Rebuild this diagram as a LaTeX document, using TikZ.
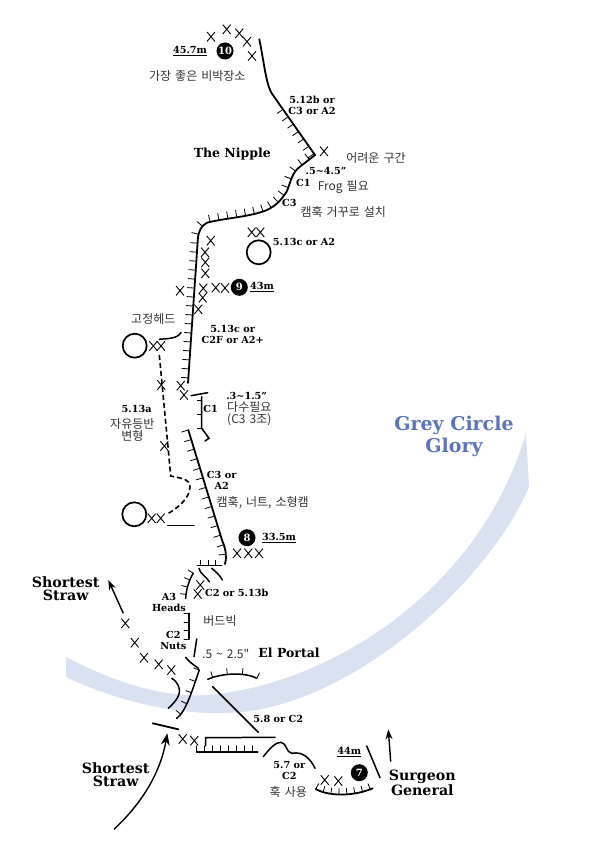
\documentclass[tikz,border=0pt]{standalone}
\usepackage{fontspec}
\setmainfont{DejaVu Serif}
\newfontfamily\krfont[WordSpace=1.5]{Noto Sans CJK KR}
\usetikzlibrary{arrows.meta,decorations.markings,shapes.misc}
\definecolor{glory}{HTML}{DAE2F1}
\definecolor{gloryink}{HTML}{5B73C0}
\tikzset{
  wall/.style={line width=1.8pt,line cap=round},
  thinwall/.style={line width=1.5pt,line cap=round},
  ticks/.style 2 args={postaction={decorate,decoration={markings,
    mark=between positions 0 and 1 step #1 with {\draw[line width=.8pt] (0,0) -- (0,#2);}}}},
  xmark/.style={cross out,draw,line width=.9pt,inner sep=0pt,minimum width=7pt,minimum height=8.5pt},
  ring/.style={line width=1.7pt},
  ball/.style={circle,fill=black,text=white,inner sep=0pt,minimum size=17pt,font=\fontsize{10}{10}\selectfont\bfseries},
  grade/.style={align=center,font=\fontsize{9.7}{11}\selectfont\bfseries},
  note/.style={align=center,font=\krfont\fontsize{12}{11.8}\selectfont,text=black!80},
  place/.style={align=center,font=\fontsize{12.5}{12.5}\selectfont\bfseries},
  bigplace/.style={align=center,font=\fontsize{14.2}{12.8}\selectfont\bfseries},
  route/.style={line width=1.4pt,-{Stealth[length=10pt,width=7pt]}}
}
\begin{document}
\begin{tikzpicture}[x=1pt,y=-1pt]
    \useasboundingbox (0,0) rectangle (595,842);
    % band
    \fill[glory] (66,657) .. controls (110,680) and (160,698) .. (207,695)
      .. controls (330,685) and (480,590) .. (526,433) -- (529,487)
      .. controls (490,580) and (350,710) .. (227,713)
      .. controls (170,715) and (110,698) .. (66,677) -- cycle;
    \node[font=\fontsize{19}{22}\selectfont\bfseries,text=gloryink,align=center] (glorylabel) at (454,436) {Grey Circle\\Glory};

    % upper pitch
    \draw[wall] (259.3,39.3) .. controls (264,62) and (266,84) .. (271.7,93.3) -- (283,109.4);
    \draw[wall,ticks={9pt}{7}] (283,109.4) -- (315,155) -- (300,166.7) .. controls (292,172) and (290,184) .. (286.7,191.7)
      .. controls (281,200) and (277,205) .. (267,210) .. controls (250,217) and (225,218) .. (207,222.7)
      .. controls (201,226) and (199,231) .. (198,237) -- (188,383);
    \draw[thinwall] (159.3,339.3) .. controls (167,338.5) and (177,339) .. (181,332.7);
    \draw[line width=1.6pt,dash pattern=on 5pt off 3pt] (159.3,355) -- (168.3,450) -- (170.7,476)
      .. controls (178,478) and (190,478) .. (190,486.7) .. controls (190,498) and (178,508) .. (166.7,514.3);
    \draw[thinwall] (167.7,525.7) -- (194,525.7);

    % middle pitch
    \draw[thinwall] (191,395.7) -- (207.7,392.7);
    \draw[thinwall] (201.7,396.7) -- (201.7,428.3) -- (209,438.3) -- (205,441);
    \foreach \ty in {400,414,428.3}
      \draw[line width=.8pt] (196.5,\ty) -- (201.7,\ty);
    \draw[wall,ticks={10pt}{7}] (188.3,430) -- (222,540) .. controls (226,550) and (227,556) .. (225,564);
    \draw[thinwall] (197.3,565.7) -- (221.7,565.7);
    \foreach \tx in {200.7,208.3,215}
      \draw[line width=.8pt] (\tx,559.5) -- (\tx,565.7);
    \draw[thinwall] (199,568.3) .. controls (200,574) and (206,576) .. (209.3,581.7);
    \draw[thinwall] (211.7,568.3) .. controls (215,571) and (220,575) .. (222.3,580);
    \draw[thinwall,ticks={7.5pt}{6}] (193.3,573.3) .. controls (189,580) and (186,590) .. (185.7,598.3);

    % lower pitch
    \draw[thinwall,ticks={8.5pt}{-5}] (189,639) -- (189,613.3);
    \draw[thinwall] (196.7,639) -- (194,656.7);
    \draw[thinwall] (185.7,657.3) .. controls (189,662) and (194,665) .. (198.3,668.3);
    \draw[thinwall,ticks={12pt}{6}] (199.3,670) .. controls (193,688) and (186,712) .. (176.7,718.3);
    \draw[thinwall] (171.7,678.3) .. controls (178,682) and (180,688) .. (179.3,693) .. controls (178,699) and (173,704) .. (168.3,708.3);
    \draw[thinwall,ticks={15pt}{6}] (256.7,678.3) .. controls (245,672) and (222,673) .. (207.7,679.3);
    \draw[thinwall] (212.7,686.7) -- (258.3,732.3);
    \draw[wall] (152.7,723.3) -- (178.3,729.3);
    \draw[thinwall] (205.7,745.7) -- (205.7,737.7) -- (275,737.3);
    \draw[wall,ticks={8pt}{-6}] (196.7,751.7) -- (257.7,751.7);
    \draw[thinwall] (263.3,756.7) .. controls (270,748) and (276,742) .. (281,742.3) .. controls (287,743) and (286,753) .. (292,753.3)
      .. controls (304,751) and (311,760) .. (315,768.3);
    \draw[wall,ticks={8pt}{-6}] (315.7,789) .. controls (330,797) and (355,796) .. (372.7,788.3);
    \draw[thinwall] (366.7,746) -- (380,777.7);

    % belays and stances
    \draw[ring] (258.7,252.3) circle (12pt);
    \draw[ring] (134.7,345.7) circle (12pt);
    \draw[ring] (134.3,514.3) circle (12pt);
    \foreach \px/\py [count=\i] in {211/36.7,226.7/29.3,239.3/33.3,247/41.7,252/56,324/151.3,210.7/240.7,251.7/232.3,260.3/232.3,
      205/252.3,205.3/262.3,205.3/273.3,215.7/287.7,225/288,203.3/288.3,202.7/297.7,198.3/309.3,180/290.7,153.3/346,161/346,
      161.3/385,180.7/385.7,184/395,164.3/446,151.7/518.3,160.7/518.3,237/553.3,248.3/553.3,259/553.3,200.3/585,197.7/594,
      125.3/623.3,134.7/642.7,144/657.7,158.7/664.3,171.3/670,182.7/739,194.3/740.7,324.7/780,338.3/781}
      \node[xmark] (x\i) at (\px,\py) {};
    \node[ball] (b10) at (225,51) {10};
    \node[ball] (b9) at (239.3,287.3) {9};
    \node[ball] (b8) at (247,537.7) {8};
    \node[ball] (b7) at (359.3,772.7) {7};

    % arrows
    \coordinate (strawtail) at (123.3,613.3);
    \coordinate (strawhead) at (108.3,580);
    \coordinate (starttail) at (114,829.3);
    \coordinate (starthead) at (167.3,733.3);
    \coordinate (surgeontail) at (390.7,761.7);
    \coordinate (surgeonhead) at (388.3,729.3);
    \draw[route] (strawtail) -- (strawhead);
    \draw[route,-{Stealth[length=12pt,width=9pt]}] (starttail) .. controls (140,805) and (160,775) .. (starthead);
    \draw[route] (surgeontail) -- (surgeonhead);

    % lengths
    \node[grade] (len10) at (190,51) {\underline{45.7m}};
    \node[grade] (len9) at (262,287.3) {\underline{43m}};
    \node[grade] (len8) at (279,537.7) {\underline{33.5m}};
    \node[grade] (len7) at (349.3,752.3) {\underline{44m}};

    % grades
    \node[grade] (g512) at (312,105) {5.12b or\\C3 or A2};
    \node[grade] (gsize1) at (326,171) {.5\textasciitilde4.5"};
    \node[grade] (gc1a) at (303.3,183.3) {C1};
    \node[grade] (gc3a) at (289.3,203) {C3};
    \node[grade] (g513c) at (304,242.3) {5.13c or A2};
    \node[grade] (g513f) at (232.7,334) {5.13c or\\C2F or A2+};
    \node[grade] (gsize2) at (246.7,396) {.3\textasciitilde1.5"};
    \node[grade] (gc1b) at (210.7,409.3) {C1};
    \node[grade] (g513a) at (136.7,409) {5.13a};
    \node[grade] (gc3b) at (221.7,480) {C3 or\\A2};
    \node[grade] (g513b) at (236.7,593.3) {C2 or 5.13b};
    \node[grade] (ga3) at (169,602.5) {A3\\Heads};
    \node[grade] (gc2) at (173.3,640.5) {C2\\Nuts};
    \node[grade] (g58) at (278.3,719) {5.8 or C2};
    \node[grade] (g57) at (289.3,771) {5.7 or\\C2};

    % notes
    \node[note] (n1) at (197.3,75.7) {가장 좋은 비박장소};
    \node[note] (n2) at (376,158.3) {어려운 구간};
    \node[note] (n3) at (343.3,186.7) {Frog 필요};
    \node[note] (n4) at (343.3,212.3) {캠훅 거꾸로 설치};
    \node[note] (n5) at (153.3,319) {고정헤드};
    \node[note] (n6) at (249.3,414) {다수필요\\(C3 3조)};
    \node[note] (n7) at (132.3,430) {자유등반\\변형};
    \node[note] (n8) at (262.7,502.3) {캠훅, 너트, 소형캠};
    \node[note] (n9) at (220,621) {버드빅};
    \node[note] (n10) at (225.7,654) {.5 \textasciitilde{} 2.5"};
    \node[note] (n11) at (288.3,791.7) {훅 사용};

    % names
    \node[place] (nipple) at (232.3,154.3) {The Nipple};
    \node[place] (portal) at (289,653.3) {El Portal};
    \node[bigplace] (straw1) at (65.7,588.5) {Shortest\\Straw};
    \node[bigplace] (straw2) at (115.7,774.5) {Shortest\\Straw};
    \node[bigplace] (surgeon) at (422.3,783) {Surgeon\\General};
\end{tikzpicture}
\end{document}
